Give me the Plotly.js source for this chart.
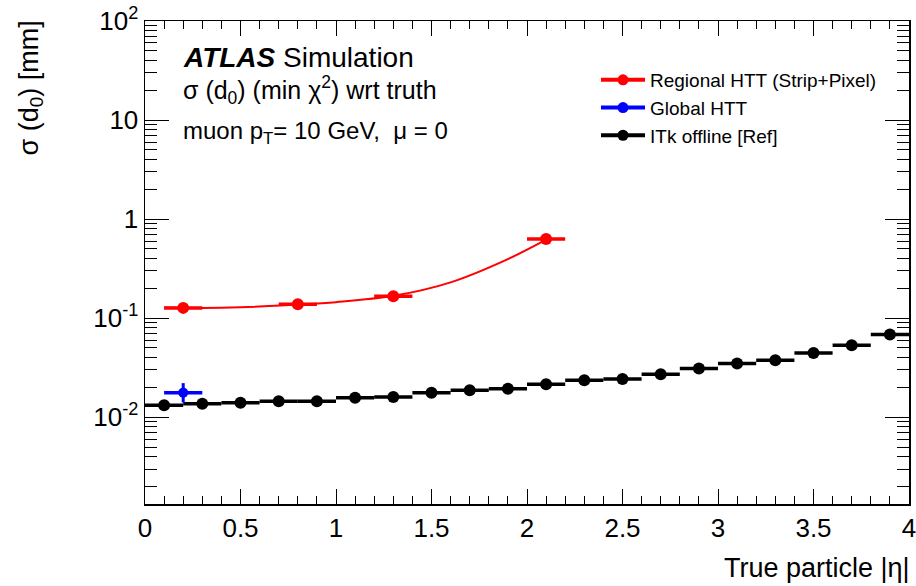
<!DOCTYPE html>
<html><head><meta charset="utf-8">
<script src="https://cdn.plot.ly/plotly-3.0.1.min.js"></script>
<style>html,body{margin:0;padding:0;background:#fff}#chart{width:916px;height:586px}</style>
</head><body><div id="chart"></div>
<script>
// ITk offline [Ref]
const refEta = [0.1,0.3,0.5,0.7,0.9,1.1,1.3,1.5,1.7,1.9,2.1,2.3,2.5,2.7,2.9,3.1,3.3,3.5,3.7,3.9];
const refSigma = [0.0132,0.0137,0.0140,0.0145,0.0145,0.0157,0.0160,0.0177,0.0187,0.0194,0.0215,0.0236,0.0243,0.0271,0.0310,0.0348,0.0376,0.0446,0.0533,0.0685];
const refEtaErr = [0.1,0.1,0.1,0.1,0.1,0.1,0.1,0.1,0.1,0.1,0.1,0.1,0.1,0.1,0.1,0.1,0.1,0.1,0.1,0.1];
// Regional HTT (Strip+Pixel)
const regEta = [0.2,0.8,1.3,2.1];
const regSigma = [0.127,0.138,0.166,0.630];
const regEtaErr = [0.1,0.1,0.1,0.1];
// Regional HTT fitted curve
const regFitEta = [0.1,0.3,0.5,0.8,1.0,1.3,1.6,1.9,2.1];
const regFitSigma = [0.128,0.127,0.129,0.137,0.145,0.168,0.230,0.395,0.620];
// Global HTT
const globEta = [0.2];
const globSigma = [0.0177];
const globEtaErr = [0.1];
const globSigmaErrUp = [0.0044];
const globSigmaErrDown = [0.0036];
// ticks
const xTickVals = [0,0.5,1,1.5,2,2.5,3,3.5,4];
const xTickText = ['0','0.5','1','1.5','2','2.5','3','3.5','4'];
const yTickVals = [0.01,0.1,1,10,100];
const yTickText = ['10<sup>-2</sup>','10<sup>-1</sup>','1','10','10<sup>2</sup>'];
const yMinorVals = [0.002,0.003,0.004,0.005,0.006,0.007,0.008,0.009,
  0.02,0.03,0.04,0.05,0.06,0.07,0.08,0.09,
  0.2,0.3,0.4,0.5,0.6,0.7,0.8,0.9,
  2,3,4,5,6,7,8,9,20,30,40,50,60,70,80,90];
const legendNames = ['Regional HTT (Strip+Pixel)','Global HTT','ITk offline [Ref]'];
const legendColors = ['#ff0000','#0000ff','#000000'];

const FONT = 'Liberation Sans, Arial, Helvetica, sans-serif';
const traces = [];
legendNames.forEach((n,i)=>traces.push({
  x:[null], y:[null], type:'scatter', mode:'lines+markers', name:n,
  line:{color:legendColors[i], width:4}, marker:{color:legendColors[i], size:11}, hoverinfo:'skip'
}));
traces.push({x:regFitEta, y:regFitSigma, type:'scatter', mode:'lines', line:{color:'#ff0000', width:2, shape:'spline'}, showlegend:false});
traces.push({x:regEta, y:regSigma, type:'scatter', mode:'markers', marker:{color:'#ff0000', size:12},
  error_x:{type:'data', array:regEtaErr, thickness:3.5, width:0, color:'#ff0000'}, showlegend:false});
traces.push({x:refEta, y:refSigma, type:'scatter', mode:'markers', marker:{color:'#000000', size:12},
  error_x:{type:'data', array:refEtaErr, thickness:3.5, width:0, color:'#000000'}, showlegend:false});
traces.push({x:globEta, y:globSigma, type:'scatter', mode:'markers', marker:{color:'#0000ff', size:10},
  error_x:{type:'data', array:globEtaErr, thickness:3.5, width:0, color:'#0000ff'},
  error_y:{type:'data', symmetric:false, array:globSigmaErrUp, arrayminus:globSigmaErrDown, thickness:3, width:0, color:'#0000ff'}, showlegend:false});

const W=916,H=586,L=145,R=7,T=21,B=82;
const pw=W-L-R, ph=H-T-B;
const px=(x)=>(x-L)/pw, py=(y)=>(H-B-y)/ph;

const layout = {
  width:W, height:H, margin:{l:L,r:R,t:T,b:B},
  paper_bgcolor:'#fff', plot_bgcolor:'#fff',
  font:{family:FONT, color:'#000'},
  showlegend:true,
  legend:{x:px(596), y:py(61), xanchor:'left', yanchor:'top', bgcolor:'rgba(0,0,0,0)',
    font:{family:FONT, size:19, color:'#000'}, itemwidth:44, tracegroupgap:0},
  xaxis:{range:[0,4], tickmode:'array', tickvals:xTickVals, ticktext:xTickText,
    ticks:'inside', ticklen:15, tickwidth:1, tickcolor:'#000', showgrid:false, zeroline:false,
    showline:true, linecolor:'#000', linewidth:1.5, mirror:'allticks', ticklabeloverflow:'allow',
    tickfont:{family:FONT, size:26, color:'#000'},
    minor:{tickmode:'linear', tick0:0, dtick:0.1, ticks:'inside', ticklen:8, tickwidth:1, tickcolor:'#000', showgrid:false}},
  yaxis:{type:'log', range:[Math.log10(0.00133), 2], tickmode:'array', tickvals:yTickVals, ticktext:yTickText,
    ticks:'inside', ticklen:24, tickwidth:1, tickcolor:'#000', showgrid:false, zeroline:false,
    showline:true, linecolor:'#000', linewidth:1.5, mirror:'allticks', ticklabeloverflow:'allow',
    tickfont:{family:FONT, size:26, color:'#000'},
    minor:{tickmode:'array', tickvals:yMinorVals, ticks:'inside', ticklen:12, tickwidth:1, tickcolor:'#000', showgrid:false}},
  annotations:[
    {xref:'paper', yref:'paper', x:px(912), y:py(585), xanchor:'right', yanchor:'bottom', showarrow:false,
     text:'True particle |η|', font:{family:FONT, size:27, color:'#000'}},
    {xref:'paper', yref:'paper', x:px(31), y:py(19), xanchor:'center', yanchor:'top', showarrow:false, textangle:-90,
     text:'σ (d<sub>0</sub>) [mm]', font:{family:FONT, size:27, color:'#000'}},
    {xref:'paper', yref:'paper', x:px(181), y:py(57), xanchor:'left', yanchor:'middle', showarrow:false,
     text:'<b><i>ATLAS</i></b> Simulation', font:{family:FONT, size:28, color:'#000'}},
    {xref:'paper', yref:'paper', x:px(181), y:py(90), xanchor:'left', yanchor:'middle', showarrow:false,
     text:'σ (d<sub>0</sub>) (min χ<sup>2</sup>) wrt truth', font:{family:FONT, size:25, color:'#000'}},
    {xref:'paper', yref:'paper', x:px(181), y:py(132), xanchor:'left', yanchor:'middle', showarrow:false,
     text:'muon p<sub>T</sub>= 10 GeV,&nbsp; μ = 0', font:{family:FONT, size:24, color:'#000'}}
  ]
};
Plotly.newPlot('chart', traces, layout, {displayModeBar:false, staticPlot:true});
</script></body></html>
